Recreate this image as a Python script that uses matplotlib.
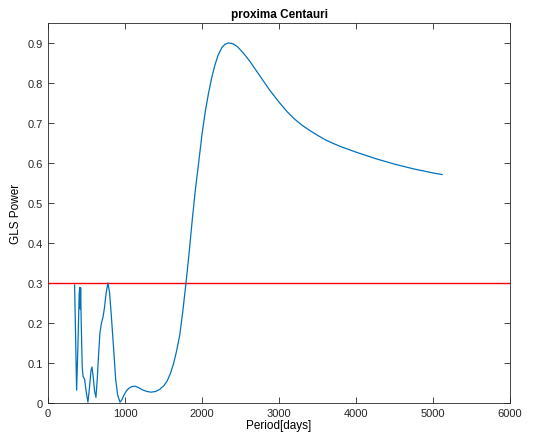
import matplotlib
matplotlib.use('Agg')
import matplotlib.pyplot as plt

# GLS periodogram values
period_days = [346, 372, 390, 405, 412, 418, 424, 432, 445, 455, 476, 495, 519, 540, 558,
               571, 585, 605, 623, 640, 660, 675, 695, 714, 735, 755, 779, 800, 820, 835,
               858, 879, 905, 935, 960, 987, 1020, 1052, 1090, 1132, 1180, 1225, 1280, 1339,
               1400, 1450, 1504, 1550, 1590, 1630, 1670, 1711, 1750, 1792, 1835, 1875,
               1915, 1958, 2000, 2042, 2085, 2125, 2165, 2208, 2260, 2300, 2346, 2400, 2458,
               2540, 2625, 2750, 2875, 3000, 3100, 3200, 3300, 3400, 3500, 3600, 3700, 3800,
               3900, 4000, 4125, 4250, 4375, 4500, 4625, 4750, 4875, 5000, 5117]
gls_power = [0.295, 0.032, 0.15, 0.27, 0.289, 0.235, 0.288, 0.2, 0.09, 0.067, 0.059, 0.03,
             0.002, 0.04, 0.08, 0.09, 0.07, 0.03, 0.014, 0.06, 0.13, 0.176, 0.2, 0.214, 0.24,
             0.275, 0.3, 0.275, 0.225, 0.184, 0.12, 0.059, 0.02, 0.002, 0.008, 0.02, 0.031,
             0.037, 0.041, 0.042, 0.038, 0.033, 0.029, 0.027, 0.029, 0.034, 0.043, 0.056,
             0.074, 0.098, 0.13, 0.17, 0.228, 0.3, 0.38, 0.461, 0.535, 0.603, 0.672,
             0.728, 0.775, 0.812, 0.843, 0.869, 0.889, 0.897, 0.9, 0.898, 0.891, 0.874, 0.853,
             0.818, 0.783, 0.752, 0.729, 0.71, 0.694, 0.681, 0.669, 0.658, 0.649, 0.641, 0.634,
             0.627, 0.619, 0.611, 0.604, 0.597, 0.591, 0.585, 0.58, 0.575, 0.571]
threshold = 0.3

x_ticks = [0, 1000, 2000, 3000, 4000, 5000, 6000]
y_ticks = [0, 0.1, 0.2, 0.3, 0.4, 0.5, 0.6, 0.7, 0.8, 0.9]
y_labels = ['0', '0.1', '0.2', '0.3', '0.4', '0.5', '0.6', '0.7', '0.8', '0.9']

plt.rcParams['font.family'] = ['Liberation Sans', 'DejaVu Sans']

fig = plt.figure(figsize=(5.45, 4.35), dpi=100)
ax = fig.add_axes([0.088, 0.0713, 0.848, 0.8737])

ax.axhline(threshold, color='#FF0000', linewidth=1.0, zorder=2)
ax.plot(period_days, gls_power, color='#0072BD', linewidth=0.9, zorder=3)

ax.set_xlim(0, 6000)
ax.set_ylim(0, 0.95)
ax.set_xticks(x_ticks)
ax.set_yticks(y_ticks)
ax.set_yticklabels(y_labels)

axis_col = '#262626'
for sp in ax.spines.values():
    sp.set_color(axis_col)
    sp.set_linewidth(0.6)
ax.tick_params(direction='in', top=True, right=True, length=4, width=0.6,
               colors=axis_col, labelsize=8)

ax.set_title('proxima Centauri', fontsize=8.5, fontweight='bold', pad=4)
ax.set_xlabel('Period[days]', fontsize=8.5, labelpad=1)
ax.set_ylabel('GLS Power', fontsize=8.5, labelpad=4)

fig.savefig('out.png', dpi=100)
